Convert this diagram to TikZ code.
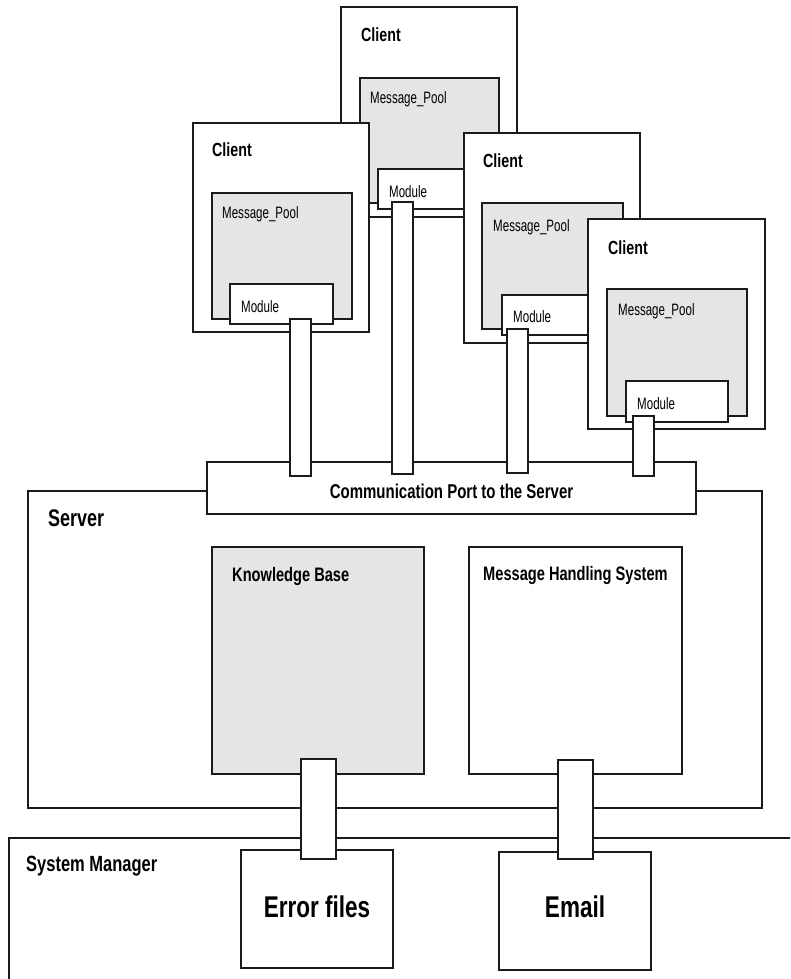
\documentclass[tikz,border=0pt]{standalone}
\usepackage{fontspec}
\setmainfont{Liberation Sans}[FakeStretch=0.7]
\newfontfamily\bfont{Liberation Sans}[FakeStretch=0.75]
\definecolor{ln}{HTML}{1A1A1A}
\definecolor{gf}{HTML}{E5E5E5}
\newcommand\mybox[6]{\node[#1, minimum width={#5pt-#3pt}, minimum height={#6pt-#4pt}] (#2) at (#3,#4) {};}
\newcommand\mytxt[5]{\node[#1] (#2) at (#3,#4) {#5};}
\begin{document}
\begin{tikzpicture}[x=1pt,y=-1pt,
  box/.style={draw=ln, line width=1.6pt, fill=white, inner sep=0pt, outer sep=0pt, anchor=north west},
  gbox/.style={box, fill=gf},
  txt/.style={inner sep=0pt, anchor=base west, text=black},
  clientlbl/.style={txt, font=\bfont\bfseries\fontsize{19}{19}\selectfont},
  smalllbl/.style={txt, font=\fontsize{16.5}{16.5}\selectfont},
  midlbl/.style={txt, font=\bfont\bfseries\fontsize{19.5}{19.5}\selectfont},
  portlbl/.style={txt, anchor=base, font=\bfont\bfseries\fontsize{20}{20}\selectfont},
  serverlbl/.style={txt, font=\bfont\bfseries\fontsize{24}{24}\selectfont},
  smlbl/.style={txt, font=\bfont\bfseries\fontsize{22}{22}\selectfont},
  biglbl/.style={txt, anchor=base, font=\bfont\bfseries\fontsize{30}{30}\selectfont}]
\useasboundingbox (0,0) rectangle (790,979);
\clip (0,0) rectangle (790,979);
% Client 1 (top)
\mybox{box}{c1}{341}{7}{517}{217}
\mybox{gbox}{mp1}{360}{78}{499}{203}
\mybox{box}{m1}{378}{169}{481}{209}
\mytxt{clientlbl}{tc1}{361}{42}{Client}
\mytxt{smalllbl}{tmp1}{370}{104}{Message\_Pool}
\mytxt{smalllbl}{tm1}{389}{197}{Module}
% Client 2 (left)
\mybox{box}{c2}{193}{123}{369}{332}
\mybox{gbox}{mp2}{212}{193}{352}{319}
\mybox{box}{m2}{230}{284}{333}{324}
\mytxt{clientlbl}{tc2}{212}{157}{Client}
\mytxt{smalllbl}{tmp2}{222}{218}{Message\_Pool}
\mytxt{smalllbl}{tm2}{241}{312}{Module}
% Client 3
\mybox{box}{c3}{464}{133}{640}{343}
\mybox{gbox}{mp3}{482}{203}{623}{329}
\mybox{box}{m3}{502}{295}{605}{335}
\mytxt{clientlbl}{tc3}{483}{167}{Client}
\mytxt{smalllbl}{tmp3}{493}{231}{Message\_Pool}
\mytxt{smalllbl}{tm3}{513}{322}{Module}
% Client 4
\mybox{box}{c4}{588}{219}{765}{429}
\mybox{gbox}{mp4}{607}{289}{747}{416}
\mybox{box}{m4}{626}{381}{728}{422}
\mytxt{clientlbl}{tc4}{608}{254}{Client}
\mytxt{smalllbl}{tmp4}{618}{315}{Message\_Pool}
\mytxt{smalllbl}{tm4}{637}{409}{Module}
% Server
\mybox{box}{srv}{28}{491}{762}{808}
\mytxt{serverlbl}{tsrv}{48}{526}{Server}
\mybox{box}{port}{207}{462}{696}{514}
\node[portlbl] (tport) at (451.5,498) {Communication Port to the Server};
% client links
\mybox{box}{k1}{392}{202}{413}{474}
\mybox{box}{k2}{290}{319}{311}{476}
\mybox{box}{k3}{507}{329}{528}{473}
\mybox{box}{k4}{633}{416}{654}{476}
% server internals
\mybox{gbox}{kb}{212}{547}{424}{774}
\mytxt{midlbl}{tkb}{232}{581}{Knowledge Base}
\mybox{box}{mhs}{469}{547}{682}{774}
\mytxt{midlbl}{tmhs}{483}{580}{Message Handling System}
% System manager
\mybox{box}{sm}{9}{838}{810}{1000}
\mytxt{smlbl}{tsm}{26}{871}{System Manager}
\mybox{box}{ef}{241}{850}{393}{968}
\node[biglbl] (tef) at (317,917) {Error files};
\mybox{box}{em}{499}{852}{651}{970}
\node[biglbl] (tem) at (575,917) {Email};
% lower links
\mybox{box}{k5}{301}{759}{336}{859}
\mybox{box}{k6}{558}{760}{593}{859}
\end{tikzpicture}
\end{document}
